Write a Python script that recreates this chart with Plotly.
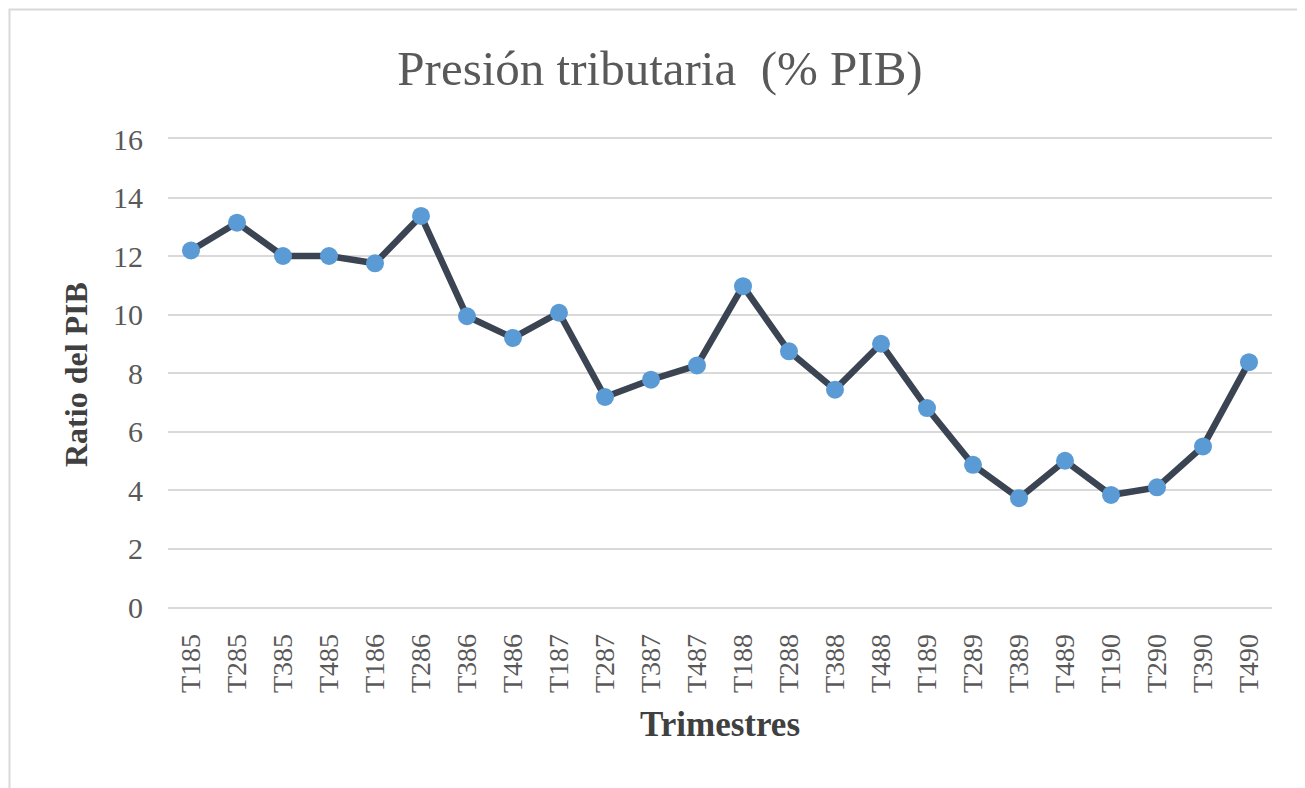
import plotly.graph_objects as go

categories = ["T185", "T285", "T385", "T485", "T186", "T286", "T386", "T486",
              "T187", "T287", "T387", "T487", "T188", "T288", "T388", "T488",
              "T189", "T289", "T389", "T489", "T190", "T290", "T390", "T490"]
ratio_pib = [12.19, 13.14, 12.0, 12.0, 11.75, 13.37, 9.94, 9.2,
             10.06, 7.18, 7.77, 8.26, 10.97, 8.74, 7.43, 9.0,
             6.8, 4.86, 3.72, 5.0, 3.83, 4.09, 5.49, 8.37]
y_ticks = [0, 2, 4, 6, 8, 10, 12, 14, 16]

title_text = "Presión tributaria\u00a0 (% PIB)"
x_title = "Trimestres"
y_title = "Ratio del PIB"

FONT = "Liberation Serif, Times New Roman, serif"
OFF = 8  # page body margin offset
W, H = 1305, 788
# target plot area in screenshot pixels
PL, PR, PT, PB = 168, 1272, 139, 607
L = PL - OFF
T = PT - OFF
R = W - (PR - OFF)
B = H - (PB - OFF)
pw, ph = W - L - R, H - T - B

def px_x(px):
    return (px - PL) / pw

def px_y(py):
    return (PB - py) / ph

fig = go.Figure()
fig.add_trace(go.Scatter(
    x=categories, y=ratio_pib, mode="lines+markers",
    line=dict(color="#3b4452", width=6.5),
    marker=dict(color="#5b9bd5", size=18, line=dict(width=0)),
    showlegend=False, cliponaxis=False,
))

fig.update_layout(
    width=W, height=H,
    margin=dict(l=L, r=R, t=T, b=B, pad=0),
    paper_bgcolor="white", plot_bgcolor="white",
    font=dict(family=FONT, color="#595959"),
    title=dict(text=title_text, font=dict(family=FONT, size=49, color="#595959"),
               xref="paper", x=px_x(660), xanchor="center",
               yref="container", y=1 - (68 - OFF) / H, yanchor="middle"),
    xaxis=dict(type="category", range=[-0.5, len(categories) - 0.5],
               showgrid=False, zeroline=False,
               showline=True, mirror=True, linecolor="#d9d9d9", linewidth=1.5,
               tickangle=-90, tickfont=dict(family=FONT, size=28, color="#595959"),
               ticks="", ticklabelstandoff=14),
    yaxis=dict(range=[0, 16], tickvals=y_ticks, showgrid=True,
               gridcolor="#d9d9d9", gridwidth=1.5, zeroline=False, showline=False,
               tickfont=dict(family=FONT, size=30, color="#595959"),
               ticks="", ticklabelstandoff=24),
    annotations=[
        dict(text=f"<b>{x_title}</b>", xref="paper", yref="paper",
             x=px_x(720), y=px_y(724), xanchor="center", yanchor="middle",
             showarrow=False, font=dict(family=FONT, size=35, color="#404040")),
        dict(text=f"<b>{y_title}</b>", xref="paper", yref="paper",
             x=px_x(76), y=px_y(375), xanchor="center", yanchor="middle",
             textangle=-90, showarrow=False,
             font=dict(family=FONT, size=32, color="#404040")),
    ],
    shapes=[
        dict(type="rect", xref="paper", yref="paper",
             x0=px_x(9.5), x1=px_x(1340), y0=px_y(9.5), y1=px_y(830),
             line=dict(color="#d9d9d9", width=2), fillcolor="rgba(0,0,0,0)",
             layer="below"),
    ],
)

fig.write_html("out.html")
